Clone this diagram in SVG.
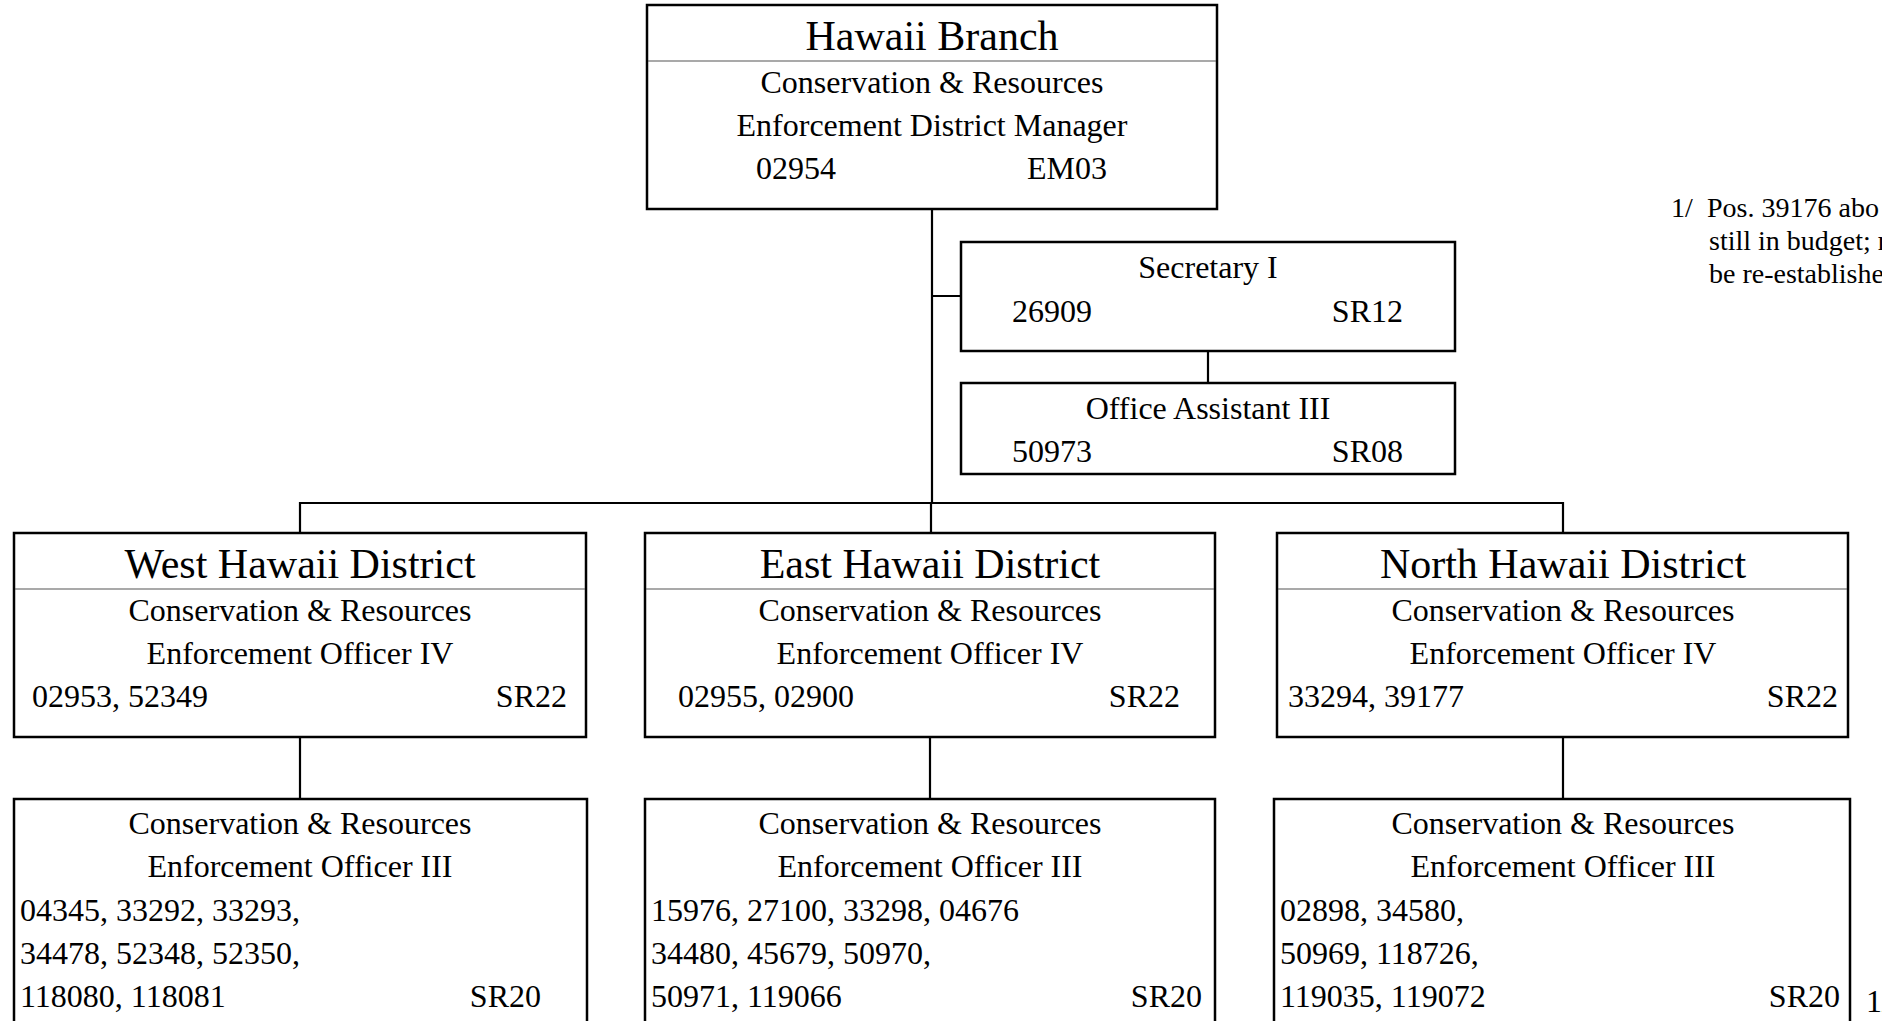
<svg xmlns="http://www.w3.org/2000/svg" width="1882" height="1021" viewBox="0 0 1882 1021">
<style>
text{font-family:"Liberation Serif","Times New Roman",serif;fill:#000}
.t{font-size:42px;text-anchor:middle}
.b{font-size:32px}
.c{text-anchor:middle}
.r{text-anchor:end}
.f{font-size:28px}
.box{fill:#fff;stroke:#000;stroke-width:2.5}
.sep{stroke:#555;stroke-width:1.2}
.con{stroke:#000;stroke-width:2.2;fill:none}
</style>
<rect width="1882" height="1021" fill="#fff"/>
<g id="connectors">
<path class="con" d="M932 209V503M932 296H961M1208 351V383M300 533V503H1563V533M931 503V533M300 737V799M930 737V799M1563 737V799"/>
</g>
<g id="hawaii-branch">
<rect class="box" x="647" y="5" width="570" height="204"/>
<line class="sep" x1="648" y1="61" x2="1216" y2="61"/>
<text class="t" x="932" y="50">Hawaii Branch</text>
<text class="b c" x="932" y="93">Conservation &amp; Resources</text>
<text class="b c" x="932" y="136">Enforcement District Manager</text>
<text class="b" x="756" y="179">02954</text>
<text class="b r" x="1107" y="179">EM03</text>
</g>
<g id="secretary">
<rect class="box" x="961" y="242" width="494" height="109"/>
<text class="b c" x="1208" y="278">Secretary I</text>
<text class="b" x="1012" y="322">26909</text>
<text class="b r" x="1403" y="322">SR12</text>
</g>
<g id="office-assistant">
<rect class="box" x="961" y="383" width="494" height="91"/>
<text class="b c" x="1208" y="419">Office Assistant III</text>
<text class="b" x="1012" y="462">50973</text>
<text class="b r" x="1403" y="462">SR08</text>
</g>
<g id="footnote">
<text class="f" x="1671" y="217">1/</text>
<text class="f" x="1707" y="217">Pos. 39176 abo</text>
<text class="f" x="1709" y="250">still in budget; r</text>
<text class="f" x="1709" y="283">be re-establishe</text>
</g>
<g id="west-district">
<rect class="box" x="14" y="533" width="572" height="204"/>
<line class="sep" x1="15" y1="589" x2="585" y2="589"/>
<text class="t" x="300" y="578">West Hawaii District</text>
<text class="b c" x="300" y="621">Conservation &amp; Resources</text>
<text class="b c" x="300" y="664">Enforcement Officer IV</text>
<text class="b" x="32" y="707">02953, 52349</text>
<text class="b r" x="567" y="707">SR22</text>
</g>
<g id="east-district">
<rect class="box" x="645" y="533" width="570" height="204"/>
<line class="sep" x1="646" y1="589" x2="1214" y2="589"/>
<text class="t" x="930" y="578">East Hawaii District</text>
<text class="b c" x="930" y="621">Conservation &amp; Resources</text>
<text class="b c" x="930" y="664">Enforcement Officer IV</text>
<text class="b" x="678" y="707">02955, 02900</text>
<text class="b r" x="1180" y="707">SR22</text>
</g>
<g id="north-district">
<rect class="box" x="1277" y="533" width="571" height="204"/>
<line class="sep" x1="1278" y1="589" x2="1847" y2="589"/>
<text class="t" x="1563" y="578">North Hawaii District</text>
<text class="b c" x="1563" y="621">Conservation &amp; Resources</text>
<text class="b c" x="1563" y="664">Enforcement Officer IV</text>
<text class="b" x="1288" y="707">33294, 39177</text>
<text class="b r" x="1838" y="707">SR22</text>
</g>
<g id="west-officers">
<rect class="box" x="14" y="799" width="573" height="240"/>
<text class="b c" x="300" y="834">Conservation &amp; Resources</text>
<text class="b c" x="300" y="877">Enforcement Officer III</text>
<text class="b" x="20" y="921">04345, 33292, 33293,</text>
<text class="b" x="20" y="964">34478, 52348, 52350,</text>
<text class="b" x="20" y="1007">118080, 118081</text>
<text class="b r" x="541" y="1007">SR20</text>
</g>
<g id="east-officers">
<rect class="box" x="645" y="799" width="570" height="240"/>
<text class="b c" x="930" y="834">Conservation &amp; Resources</text>
<text class="b c" x="930" y="877">Enforcement Officer III</text>
<text class="b" x="651" y="921">15976, 27100, 33298, 04676</text>
<text class="b" x="651" y="964">34480, 45679, 50970,</text>
<text class="b" x="651" y="1007">50971, 119066</text>
<text class="b r" x="1202" y="1007">SR20</text>
</g>
<g id="north-officers">
<rect class="box" x="1274" y="799" width="576" height="240"/>
<text class="b c" x="1563" y="834">Conservation &amp; Resources</text>
<text class="b c" x="1563" y="877">Enforcement Officer III</text>
<text class="b" x="1280" y="921">02898, 34580,</text>
<text class="b" x="1280" y="964">50969, 118726,</text>
<text class="b" x="1280" y="1007">119035, 119072</text>
<text class="b r" x="1840" y="1007">SR20</text>
<text class="b" x="1866" y="1012">1/</text>
</g>
</svg>
